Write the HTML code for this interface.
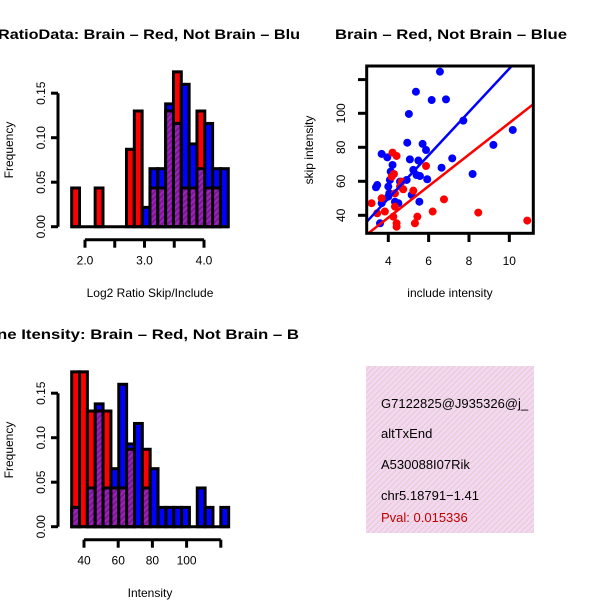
<!DOCTYPE html>
<html><head><meta charset="utf-8"><style>
html,body{margin:0;padding:0;background:#fff;}
svg{display:block;font-family:"Liberation Sans",sans-serif;}
</style></head><body>
<svg id="chart" width="600" height="600" viewBox="0 0 600 600">
<defs>
<pattern id="hatch" patternUnits="userSpaceOnUse" width="4" height="4" patternTransform="rotate(45)">
<rect width="4" height="4" fill="#a020c0"/><rect width="2" height="4" fill="#7a1890"/>
</pattern>
<pattern id="pinkhatch" patternUnits="userSpaceOnUse" width="4" height="4" patternTransform="rotate(45)">
<rect width="4" height="4" fill="#f6d6f2"/><rect width="1" height="4" fill="#dcd0cc"/>
</pattern>
</defs>
<g id="h1"></g>
<g id="sc"></g>
<g id="h2"></g>
<g>
<rect x="366" y="366" width="168" height="167" fill="url(#pinkhatch)"/>
<text x="381" y="408" font-size="13">G7122825@J935326@j_</text>
<text x="381" y="438" font-size="13">altTxEnd</text>
<text x="381" y="469" font-size="13">A530088I07Rik</text>
<text x="381" y="500" font-size="13">chr5.18791−1.41</text>
<text x="381" y="522" font-size="13" fill="#c00000">Pval: 0.015336</text>
</g>
</svg>
<script>
// ---- ratio histogram data ----
const ratioBinStart = 1.776;
const ratioBinWidth = 0.1316;
const ratioRed = [0.0435,0,0,0.0435,0,0,0,0.087,0.13,0,0.0435,0.0435,0.13,0.174,0.0435,0.0435,0.13,0.0435,0.0435,0];
const ratioBlue = [0,0,0,0,0,0,0,0,0,0.0217,0.0652,0.0652,0.138,0.116,0.16,0.093,0.0652,0.116,0.0652,0.0652];
const ratioXTicks = [2.0,2.5,3.0,3.5,4.0];
const ratioXLabels = ["2.0","","3.0","","4.0"];
const freqTicks = [0,0.05,0.10,0.15];
const freqLabels = ["0.00","0.05","0.10","0.15"];
// ---- intensity histogram data ----
const intBinStart = 32.8;
const intBinWidth = 4.59;
const intRed = [0.174,0.174,0.13,0.13,0.13,0.0435,0.0435,0.087,0,0.087,0,0,0,0,0,0,0,0,0,0];
const intBlue = [0.0217,0,0.0435,0.138,0.0435,0.0652,0.16,0.093,0.116,0.0435,0.0652,0.0217,0.0217,0.0217,0.0217,0,0.0435,0.0217,0,0.0217];
const intXTicks = [40,60,80,100,120];
const intXLabels = ["40","60","80","100",""];
// ---- scatter data ----
const blueX = [6.56,5.37,6.15,6.86,5.02,7.72,10.17,9.21,4.94,5.70,5.87,3.67,3.95,5.07,5.49,7.17,6.64,4.21,4.12,3.45,3.39,4.08,4.0,4.05,5.24,5.40,5.57,5.93,8.18,4.91,4.58,3.67,4.33,4.50,5.54,5.16,3.59,4.0];
const blueY = [124.5,112.7,107.8,108.2,99.6,95.7,90.2,81.4,82.7,82.0,78.4,76.1,74.1,72.9,72.2,73.5,68.0,69.6,65.7,57.8,56.5,60.8,56.9,52.9,66.7,63.7,63.1,61.2,64.3,60.8,59.8,47.1,48.0,47.1,48.0,52.0,35.3,51.0];
const redX = [4.21,4.41,5.87,4.66,4.28,5.24,4.74,4.33,3.67,3.17,3.45,3.83,4.33,4.25,4.41,4.41,5.44,5.32,6.20,6.76,8.46,10.89,4.58,4.17];
const redY = [76.9,74.9,69.0,59.8,64.3,54.5,55.3,52.9,50.0,47.1,41.2,42.2,45.1,39.2,35.3,33.3,39.2,35.3,42.2,49.4,41.6,36.9,56.9,62.7];
const blueFit = [-1.1,12.74];
const redFit = [1.5,9.28];
const scXTicks = [4,6,8,10];
const scYTicks = [40,60,80,100];

const NS="http://www.w3.org/2000/svg";
function mk(parent,tag,attrs,txt){const e=document.createElementNS(NS,tag);for(const k in attrs)e.setAttribute(k,attrs[k]);if(txt!==undefined)e.textContent=txt;parent.appendChild(e);return e;}

function hist(g,oy,binStart,binW,red,blue,xOf,xTicks,xLabels,xTitle,title,titleX,titleLen){
  const y0=oy+226.7, per=44.5/0.05;
  const yOf=v=>y0-v*per;
  for(let i=0;i<red.length;i++){
    const x1=xOf(binStart+i*binW), x2=xOf(binStart+(i+1)*binW);
    const r=red[i], b=blue[i], mx=Math.max(r,b), mn=Math.min(r,b);
    if(mx>0){
      const e=mk(g,'rect',{x:x1,y:yOf(mx),width:x2-x1,height:y0-yOf(mx),fill:r>=b?'#ff0000':'#0000ff',stroke:'#000','stroke-width':3});
      
      
    }
    if(mn>0){
      const e=mk(g,'rect',{x:x1,y:yOf(mn),width:x2-x1,height:y0-yOf(mn),fill:'url(#hatch)',stroke:'#000','stroke-width':3});
      
      
    }
  }
  const base=mk(g,'line',{x1:xOf(binStart)-1,x2:xOf(binStart+red.length*binW)+1,y1:y0,y2:y0,stroke:'#000','stroke-width':3});
  
  
  const ya=mk(g,'line',{x1:58,x2:58,y1:yOf(0),y2:yOf(0.15),stroke:'#000','stroke-width':3});
  
  
  freqTicks.forEach((t,i)=>{
    mk(g,'line',{x1:51,x2:58,y1:yOf(t),y2:yOf(t),stroke:'#000','stroke-width':3});
    const tx=mk(g,'text',{x:45,y:yOf(t),'font-size':12,'text-anchor':'middle',transform:`rotate(-90 45 ${yOf(t)})`},freqLabels[i]);
    
    
  });
  const axY=y0+13;
  const xa=mk(g,'line',{x1:xOf(xTicks[0]),x2:xOf(xTicks[xTicks.length-1]),y1:axY,y2:axY,stroke:'#000','stroke-width':3});
  
  
  xTicks.forEach((t,i)=>{
    mk(g,'line',{x1:xOf(t),x2:xOf(t),y1:axY,y2:axY+8,stroke:'#000','stroke-width':3});
    const tx=mk(g,'text',{x:xOf(t),y:axY+25,'font-size':12,'text-anchor':'middle'},xLabels[i]);
    
    
  });
  const xt=mk(g,'text',{x:150,y:oy+297,'font-size':12,'text-anchor':'middle'},xTitle);
  
  
  const yt=mk(g,'text',{x:13,y:oy+150,'font-size':12,'text-anchor':'middle',transform:`rotate(-90 13 ${oy+150})`},'Frequency');
  
  
  const tt=mk(g,'text',{x:titleX,y:oy+39,'font-size':14,'font-weight':'bold',textLength:titleLen,lengthAdjust:'spacingAndGlyphs'},title);
  
  
}
const h1=document.getElementById('h1');
hist(h1,0,ratioBinStart,ratioBinWidth,ratioRed,ratioBlue,v=>85+(v-2)*59.5,ratioXTicks,ratioXLabels,'Log2 Ratio Skip/Include','RatioData: Brain – Red, Not Brain – Blu',-2,302);
const h2=document.getElementById('h2');
hist(h2,300,intBinStart,intBinWidth,intRed,intBlue,v=>84+(v-40)*1.71,intXTicks,intXLabels,'Intensity','ne Itensity: Brain – Red, Not Brain – B',-3,302);

// scatter
const sc=document.getElementById('sc');
const sx=v=>388.3+(v-4)*20.17, sy=v=>215.3-(v-40)*1.7;
mk(sc,'clipPath',{id:'scclip'}).appendChild(document.createElementNS(NS,'rect'));
const cr=sc.querySelector('#scclip rect');cr.setAttribute('x',367);cr.setAttribute('y',66);cr.setAttribute('width',166);cr.setAttribute('height',167);
const pg=mk(sc,'g',{'clip-path':'url(#scclip)'});
blueX.forEach((x,i)=>{const c=mk(pg,'circle',{cx:sx(x),cy:sy(blueY[i]),r:4,fill:'#0000ff'});

});
redX.forEach((x,i)=>{const c=mk(pg,'circle',{cx:sx(x),cy:sy(redY[i]),r:4,fill:'#ff0000'});

});
[[blueFit,'#0000ff','blue-fit-line'],[redFit,'#ff0000','red-fit-line']].forEach(([f,c,n])=>{
  const l=mk(pg,'line',{x1:sx(2.5),y1:sy(f[0]+f[1]*2.5),x2:sx(11.5),y2:sy(f[0]+f[1]*11.5),stroke:c,'stroke-width':2.5});
  
  
});
const fr=mk(sc,'rect',{x:366.7,y:66,width:166.6,height:167.3,fill:'none',stroke:'#000','stroke-width':3});


scXTicks.forEach(t=>{
  mk(sc,'line',{x1:sx(t),x2:sx(t),y1:233,y2:242,stroke:'#000','stroke-width':3});
  const tx=mk(sc,'text',{x:sx(t),y:265,'font-size':12,'text-anchor':'middle'},String(t));
  
  
});
mk(sc,'line',{x1:358,x2:366,y1:79.6,y2:79.6,stroke:'#000','stroke-width':3});
scYTicks.forEach(t=>{
  mk(sc,'line',{x1:358,x2:366,y1:sy(t),y2:sy(t),stroke:'#000','stroke-width':3});
  const tx=mk(sc,'text',{x:345,y:sy(t),'font-size':12,'text-anchor':'middle',transform:`rotate(-90 345 ${sy(t)})`},String(t));
  
  
});
const sxt=mk(sc,'text',{x:450,y:297,'font-size':12,'text-anchor':'middle'},'include intensity');


const syt=mk(sc,'text',{x:313,y:150,'font-size':12,'text-anchor':'middle',transform:'rotate(-90 313 150)'},'skip intensity');


const stt=mk(sc,'text',{x:335,y:39,'font-size':14,'font-weight':'bold',textLength:232,lengthAdjust:'spacingAndGlyphs'},'Brain – Red, Not Brain – Blue');


</script>
</body></html>
